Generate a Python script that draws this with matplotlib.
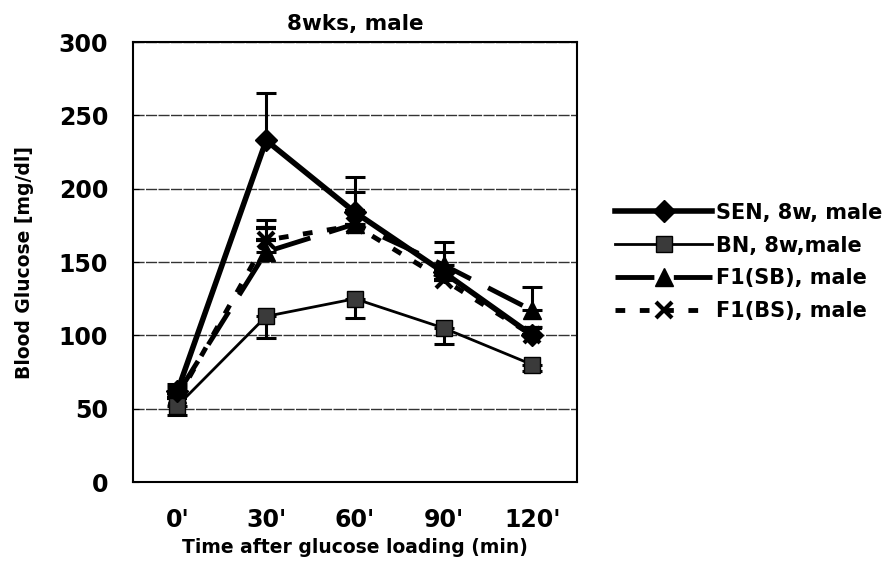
import matplotlib
matplotlib.use("Agg")
import matplotlib.pyplot as plt
from matplotlib.lines import Line2D
import numpy as np

plt.rcParams['font.family'] = ['DejaVu Sans']
plt.rcParams['font.weight'] = 'bold'

categories = ["0'", "30'", "60'", "90'", "120'"]
sen = [62, 233, 184, 143, 100]
sen_err = [5, 32, 24, 21, 6]
bn = [52, 113, 125, 105, 80]
bn_err = [6, 15, 13, 11, 4]
f1sb = [60, 157, 176, 148, 117]
f1sb_err = [5, 22, 22, 9, 16]
f1bs = [57, 165, 175, 138, 100]
f1bs_err = [4, 8, 10, 6, 5]

fig = plt.figure(figsize=(8.84, 5.61), dpi=100)
ax = fig.add_axes([0.1505, 0.1408, 0.502, 0.784])
x = np.arange(len(categories)) + 0.5

styles = {
    'SEN, 8w, male': dict(lw=4, ls='-', marker='D', ms=11, mfc='black'),
    'BN, 8w,male': dict(lw=2, ls='-', marker='s', ms=12, mfc='#3a3a3a'),
    'F1(SB), male': dict(lw=3.5, ls=(0, (8, 4)), marker='^', ms=13, mfc='black'),
    'F1(BS), male': dict(lw=3.5, ls=(0, (2, 3)), marker='x', ms=11, mew=3, mfc='black'),
}
ekw = dict(capsize=7, elinewidth=2.2, capthick=2.2, color='black')

ax.errorbar(x, f1bs, yerr=[np.zeros(5), f1bs_err], zorder=3, **ekw, **styles['F1(BS), male'])
ax.errorbar(x, f1sb, yerr=[np.zeros(5), f1sb_err], zorder=4, **ekw, **styles['F1(SB), male'])
ax.errorbar(x, bn, yerr=[bn_err, np.zeros(5)], zorder=4, **ekw, **styles['BN, 8w,male'])
ax.errorbar(x, sen, yerr=[np.zeros(5), sen_err], zorder=5, **ekw, **styles['SEN, 8w, male'])

ax.set_xlim(0, 5)
ax.set_ylim(0, 300)
ax.set_xticks(x)
ax.set_xticklabels(categories, fontsize=17, fontweight='bold')
ax.set_yticks(range(0, 301, 50))
ax.tick_params(axis='y', labelsize=17, length=4, direction='in', pad=18)
ax.tick_params(axis='x', length=0, pad=19)
for t in ax.get_yticklabels():
    t.set_fontweight('bold')
ax.yaxis.grid(True, color='#333333', lw=1.0, ls=(0, (8, 1)))
ax.set_axisbelow(True)
for s in ax.spines.values():
    s.set_linewidth(1.5)

ax.set_title('8wks, male', fontsize=15.5, fontweight='bold', pad=9)
ax.set_xlabel('Time after glucose loading (min)', fontsize=13.5, fontweight='bold')
ax.xaxis.set_label_coords(0.5, -0.128)
ax.set_ylabel('Blood Glucose [mg/dl]', fontsize=13.5, fontweight='bold')
ax.yaxis.set_label_coords(-0.223, 0.5)

labels = ['SEN, 8w, male', 'BN, 8w,male', 'F1(SB), male', 'F1(BS), male']
handles = [Line2D([], [], color='black', **styles[l]) for l in labels]
fig.legend(handles, labels, loc='center left', bbox_to_anchor=(0.675, 0.533), frameon=False,
           fontsize=15, handlelength=4.65, handletextpad=0.2, labelspacing=0.62)

fig.savefig('out.png', dpi=100)
